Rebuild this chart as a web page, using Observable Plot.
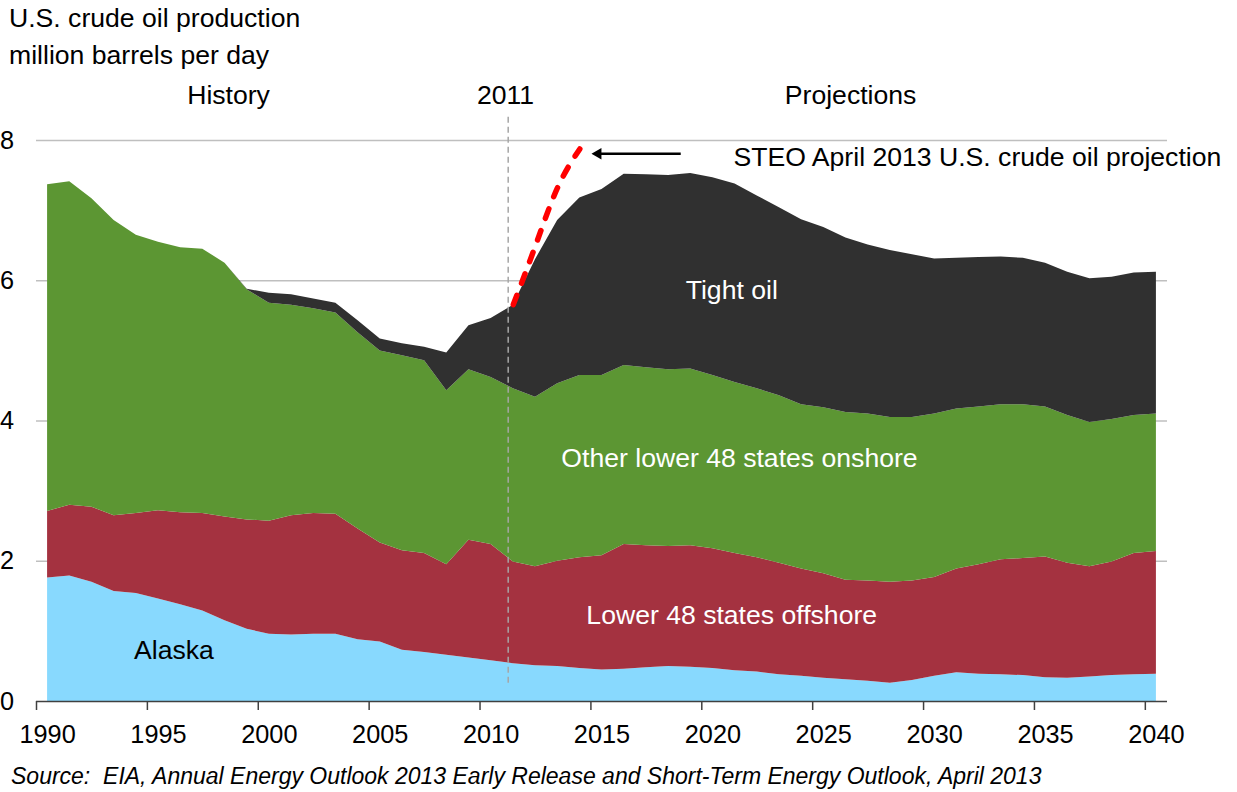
<!DOCTYPE html>
<html><head><meta charset="utf-8">
<script src="https://cdn.jsdelivr.net/npm/d3@7"></script>
<script src="https://cdn.jsdelivr.net/npm/@observablehq/plot@0.6"></script>
<style>
body{margin:0;background:#fff;width:1237px;height:792px;overflow:hidden;font-family:"Liberation Sans",Arial,sans-serif;color:#000;}
#title{font-size:26.6px;line-height:37px;padding-left:9px;height:74px;box-sizing:border-box;}
#source{font-size:23px;font-style:italic;line-height:32px;padding-left:11px;height:32px;white-space:nowrap;}
#chart svg{display:block;overflow:visible;}
</style></head>
<body>
<div id="title">U.S. crude oil production<br>million barrels per day</div>
<div id="chart"></div>
<div id="source">Source:&nbsp; EIA, Annual Energy Outlook 2013 Early Release and Short-Term Energy Outlook, April 2013</div>
<script>
const years = [1990,1991,1992,1993,1994,1995,1996,1997,1998,1999,
  2000,2001,2002,2003,2004,2005,2006,2007,2008,2009,
  2010,2011,2012,2013,2014,2015,2016,2017,2018,2019,
  2020,2021,2022,2023,2024,2025,2026,2027,2028,2029,
  2030,2031,2032,2033,2034,2035,2036,2037,2038,2039,2040];

const seriesNames = ["Alaska", "Lower 48 states offshore", "Other lower 48 states onshore", "Tight oil"];
const seriesColors = ["#88d9fe", "#a43240", "#5c9633", "#303030"];

const alaska = [1.76,1.79,1.70,1.57,1.54,1.46,1.38,1.29,1.15,1.03,
  0.96,0.95,0.96,0.96,0.88,0.85,0.73,0.70,0.66,0.62,
  0.58,0.54,0.51,0.50,0.47,0.45,0.46,0.48,0.50,0.49,
  0.47,0.44,0.42,0.38,0.36,0.33,0.31,0.29,0.26,0.30,
  0.36,0.41,0.39,0.38,0.37,0.34,0.33,0.35,0.37,0.38,0.39];
const offshore = [0.95,1.01,1.07,1.08,1.14,1.26,1.31,1.39,1.48,1.56,
  1.61,1.70,1.72,1.71,1.58,1.41,1.42,1.41,1.29,1.68,
  1.66,1.45,1.41,1.50,1.58,1.63,1.78,1.74,1.71,1.73,
  1.71,1.67,1.63,1.59,1.53,1.49,1.42,1.43,1.44,1.42,
  1.41,1.48,1.56,1.64,1.67,1.72,1.64,1.57,1.62,1.73,1.75];
const onshore = [4.66,4.61,4.40,4.21,3.97,3.83,3.78,3.77,3.62,3.28,
  3.11,3.00,2.92,2.87,2.80,2.74,2.78,2.75,2.48,2.43,
  2.38,2.47,2.42,2.53,2.60,2.57,2.55,2.54,2.52,2.52,
  2.47,2.44,2.41,2.39,2.34,2.37,2.39,2.38,2.35,2.33,
  2.33,2.28,2.25,2.21,2.19,2.14,2.11,2.06,2.03,1.97,1.96];
const tight = [0,0,0,0,0,0,0,0,0,0.01,
  0.14,0.15,0.14,0.14,0.17,0.17,0.17,0.19,0.54,0.63,
  0.84,1.19,1.96,2.33,2.53,2.65,2.73,2.75,2.77,2.79,
  2.82,2.83,2.75,2.68,2.64,2.57,2.49,2.41,2.38,2.32,
  2.21,2.15,2.13,2.11,2.09,2.05,2.04,2.05,2.03,2.03,2.02];

const steoYears = [2011, 2012, 2013, 2014];
const steoValues = [5.66, 6.50, 7.33, 7.88];

const xTickLabels = [1990,1995,2000,2005,2010,2015,2020,2025,2030,2035,2040];
const xTickMarks = [1989.5,1994.5,1999.5,2004.5,2009.5,2014.5,2019.5,2024.5,2029.5,2034.5,2039.5];
const yTicks = [0,2,4,6,8];
const gridValues = [2,4,6,8];

const divider = [{x: 2010.77, y1: 8.33, y2: 0.25}];
const headers = [
  {text: "History", x: 1998.16, y: 8.64},
  {text: "2011", x: 2010.65, y: 8.64},
  {text: "Projections", x: 2026.21, y: 8.64}
];
const areaLabels = [
  {text: "Tight oil", x: 2020.85, y: 5.86, fill: "#fff"},
  {text: "Other lower 48 states onshore", x: 2021.2, y: 3.47, fill: "#fff"},
  {text: "Lower 48 states offshore", x: 2020.85, y: 1.23, fill: "#fff"},
  {text: "Alaska", x: 1995.7, y: 0.73, fill: "#000"}
];
const steoLabel = [{text: "STEO April 2013 U.S. crude oil projection", x: 2020.93, y: 7.76}];
const arrowShaft = [{x1: 2018.55, y1: 7.81, x2: 2014.9, y2: 7.81}];
const arrowTip = [{x: 2014.6, y: 7.81}];

const seriesValues = [alaska, offshore, onshore, tight];
const rows = seriesNames.flatMap((s, i) => years.map((yr, j) => ({year: yr, series: s, value: seriesValues[i][j]})));
const steo = steoYears.map((yr, i) => ({year: yr, value: steoValues[i]}));

const font = '"Liberation Sans", Arial, sans-serif';
const chart = Plot.plot({
  width: 1237, height: 686,
  marginLeft: 36, marginRight: 70, marginTop: 66, marginBottom: 59,
  x: {domain: [1989.5, 2040.5]},
  y: {domain: [0, 8]},
  color: {domain: seriesNames, range: seriesColors},
  style: {fontFamily: font, fontSize: "25.3px", color: "#000", background: "#fff", overflow: "visible"},
  marks: [
    Plot.ruleY(gridValues, {stroke: "#bfbfbf", strokeWidth: 1.3}),
    Plot.areaY(rows, {x: "year", y: "value", fill: "series", order: seriesNames}),
    Plot.ruleY([0], {stroke: "#404040", strokeWidth: 1.5}),
    Plot.axisX({ticks: xTickMarks, tickSize: 9, tickFormat: () => "", stroke: "#404040", strokeWidth: 1.5, label: null}),
    Plot.axisX({ticks: xTickLabels, tickSize: 0, tickPadding: 24, tickFormat: d => String(d), fontSize: 25.3, label: null}),
    Plot.axisY({ticks: yTicks, tickSize: 0, tickPadding: 22.5, fontSize: 25.3, label: null}),
    Plot.ruleX(divider, {x: "x", y1: "y1", y2: "y2", stroke: "#a6a6a6", strokeWidth: 1.5, strokeDasharray: "6,4"}),
    Plot.line(steo, {x: "year", y: "value", stroke: "#ff0000", strokeWidth: 5.5, strokeDasharray: "10,13", strokeLinecap: "round", curve: "natural"}),
    Plot.link(arrowShaft, {x1: "x1", y1: "y1", x2: "x2", y2: "y2", stroke: "#000", strokeWidth: 2.5}),
    Plot.dot(arrowTip, {x: "x", y: "y", symbol: "triangle2", r: 5.5, fill: "#000", rotate: -90, dx: 5}),
    Plot.text(headers, {x: "x", y: "y", text: "text", fill: "#000", fontSize: 26.6}),
    Plot.text(areaLabels, {x: "x", y: "y", text: "text", fill: "fill", fontSize: 26.6}),
    Plot.text(steoLabel, {x: "x", y: "y", text: "text", fill: "#000", fontSize: 26.6, textAnchor: "start"})
  ]
});
document.getElementById("chart").appendChild(chart);
</script>
</body></html>
